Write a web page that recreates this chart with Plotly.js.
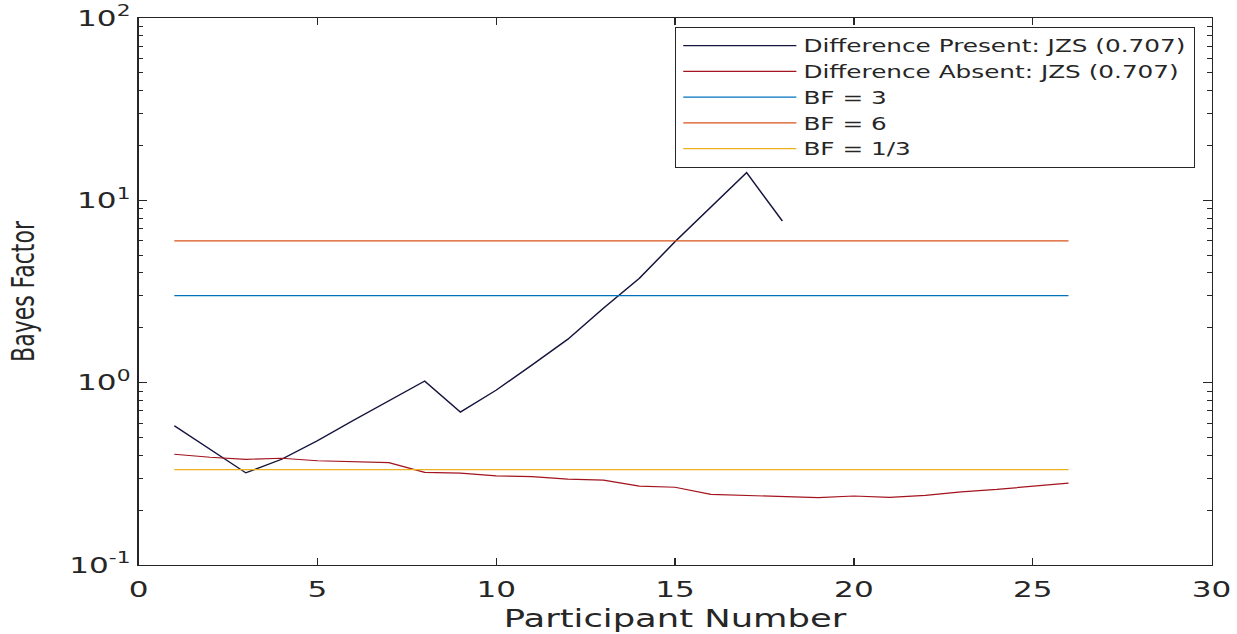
<!DOCTYPE html>
<html>
<head>
<meta charset="utf-8">
<script src="https://cdn.plot.ly/plotly-3.0.1.min.js"></script>
<style>
html,body{margin:0;padding:0;background:#fff;overflow:hidden;}
#chart{width:875px;height:634px;transform:scaleX(1.41371);transform-origin:0 0;}
</style>
</head>
<body>
<div id="chart"></div>
<script>
// Participant numbers
var participantsPresent = [1,2,3,4,5,6,7,8,9,10,11,12,13,14,15,16,17,18];
var participantsAbsent = [1,2,3,4,5,6,7,8,9,10,11,12,13,14,15,16,17,18,19,20,21,22,23,24,25,26];
// Bayes factors
var bfPresent = [0.58,0.43,0.32,0.38,0.48,0.62,0.80,1.02,0.69,0.91,1.25,1.73,2.56,3.73,5.93,9.2,14.2,7.7];
var bfAbsent = [0.405,0.39,0.38,0.385,0.373,0.368,0.364,0.322,0.319,0.308,0.305,0.296,0.292,0.271,0.267,0.244,0.240,0.237,0.234,0.239,0.235,0.241,0.252,0.260,0.271,0.281];
// Threshold lines
var thresholdNames = ["BF = 3","BF = 6","BF = 1/3"];
var thresholdValues = [3, 6, 1/3];
var thresholdColors = ["#0072BD","#D95319","#EDB120"];
// Axis ticks
var yTickVals = [0.1, 1, 10, 100];
var yTickText = ['10<sup>-1</sup>','10<sup>0</sup>','10<sup>1</sup>','10<sup>2</sup>'];
var yMinorVals = [0.2,0.3,0.4,0.5,0.6,0.7,0.8,0.9,2,3,4,5,6,7,8,9,20,30,40,50,60,70,80,90];
var xTickVals = [0,5,10,15,20,25,30];

var traces = [
  {x: participantsPresent, y: bfPresent, mode: 'lines', name: 'Difference Present: JZS (0.707)', line: {color: '#14143c', width: 1.2}},
  {x: participantsAbsent, y: bfAbsent, mode: 'lines', name: 'Difference Absent: JZS (0.707)', line: {color: '#a3141e', width: 1.2}}
];
thresholdValues.forEach(function(v, i){
  traces.push({x: participantsAbsent, y: participantsAbsent.map(function(){return v;}), mode: 'lines', name: thresholdNames[i], line: {color: thresholdColors[i], width: 1.2}});
});

var txt = '#262626';
var layout = {
  width: 875, height: 634,
  margin: {l: 98, r: 18, t: 18, b: 69},
  paper_bgcolor: '#fff', plot_bgcolor: '#fff',
  font: {family: 'DejaVu Sans', size: 20, color: txt},
  showlegend: true,
  legend: {x: 0.9846, y: 0.984, xanchor: 'right', yanchor: 'top', bgcolor: '#fff', bordercolor: txt, borderwidth: 1,
           font: {family: 'DejaVu Sans', size: 17.5, color: txt}, tracegroupgap: 0, itemwidth: 80},
  xaxis: {range: [0, 30], tickvals: xTickVals, ticks: 'inside', ticklen: 7, tickcolor: txt, tickwidth: 1,
          showline: true, linecolor: txt, linewidth: 1.3, mirror: 'ticks', showgrid: false, zeroline: false,
          ticklabelstandoff: 4,
          tickfont: {family: 'DejaVu Sans', size: 22, color: txt},
          title: {text: 'Participant Number', font: {family: 'DejaVu Sans', size: 25, color: txt}, standoff: 8}},
  yaxis: {type: 'log', range: [-1, 2], tickvals: yTickVals, ticktext: yTickText,
          ticks: 'inside', ticklen: 6, tickcolor: txt, tickwidth: 1,
          minor: {tickvals: yMinorVals, ticks: 'inside', ticklen: 3, tickcolor: txt, showgrid: false},
          showline: true, linecolor: txt, linewidth: 1.3, mirror: 'ticks', showgrid: false, zeroline: false,
          tickfont: {family: 'DejaVu Sans', size: 22, color: txt},
          title: {text: 'Bayes Factor', font: {family: 'DejaVu Sans', size: 22, color: txt}, standoff: 18}}
};

Plotly.newPlot('chart', traces, layout, {displayModeBar: false, staticPlot: true});
</script>
</body>
</html>
